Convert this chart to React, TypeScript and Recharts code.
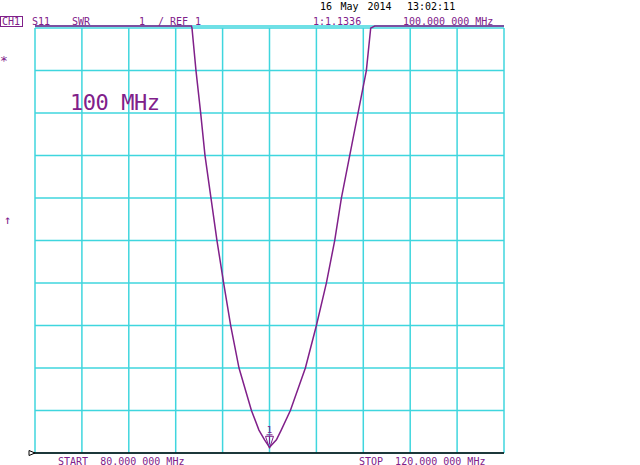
import React from 'react';
import { LineChart, Line, XAxis, YAxis, CartesianGrid, ReferenceLine, ReferenceDot } from 'recharts';

const freqMHz = [80, 93.34, 93.39, 93.73, 94.13, 94.5, 95.01, 95.52, 96.09, 96.69, 97.4, 98.46, 99.1, 99.58, 100, 100.59, 101.0, 101.78, 103.06, 104.0, 104.85, 105.56, 106.13, 106.84, 107.55, 108.26, 108.63, 108.97, 120];
const swrValues = [11.05, 11.05, 11.0, 10.0, 9.0, 8.0, 7.0, 6.0, 5.0, 4.0, 3.0, 2.0, 1.54, 1.31, 1.1336, 1.31, 1.54, 2.0, 3.0, 4.0, 5.0, 6.0, 7.0, 8.0, 9.0, 10.0, 11.0, 11.05, 11.05];
const xTicks = [80, 84, 88, 92, 96, 100, 104, 108, 112, 116, 120];
const yTicks = [1, 2, 3, 4, 5, 6, 7, 8, 9, 10, 11];
const markerFreq = 100;
const markerSwr = 1.1336;

const data = freqMHz.map((f, i) => ({ f, swr: swrValues[i] }));

const PURPLE = '#80208a';
const CYAN = '#3fd6de';
const MONO = '"DejaVu Sans Mono", monospace';

const MarkerShape = (props: any) => {
  const { cx, cy } = props;
  return (
    <g>
      <polygon points={`${cx - 4},${cy - 11} ${cx + 4},${cy - 11} ${cx},${cy + 1}`} fill="none" stroke={PURPLE} strokeWidth={1} />
      <line x1={cx} y1={cy - 11} x2={cx} y2={cy - 3} stroke={PURPLE} strokeWidth={1} />
      <line x1={cx - 3} y1={cy - 12.5} x2={cx + 3} y2={cy - 12.5} stroke={PURPLE} strokeWidth={1} />
      <text x={cx} y={cy - 14} textAnchor="middle" fontFamily={MONO} fontSize={9} fill={PURPLE}>1</text>
    </g>
  );
};

const StartShape = (props: any) => {
  const { cx, cy } = props;
  return <polygon points={`${cx - 6},${cy - 2.5} ${cx},${cy} ${cx - 6},${cy + 2.5}`} fill="#fff" stroke="#000" strokeWidth={1} />;
};

export default function App() {
  return (
    <div style={{ position: 'absolute', left: 0, top: 0, width: 640, height: 465, background: '#fff' }}>
      <LineChart width={640} height={465} data={data} margin={{ top: 26, right: 136, bottom: 12, left: 35 }}>
        <XAxis type="number" dataKey="f" domain={[80, 120]} ticks={xTicks} hide />
        <YAxis type="number" domain={[1, 11.05]} ticks={yTicks} hide />
        <CartesianGrid vertical={false} stroke={CYAN} strokeWidth={1.5} strokeDasharray="" />
        {xTicks.map((t) => (
          <ReferenceLine key={t} segment={[{ x: t, y: 1 }, { x: t, y: 11 }]} stroke={CYAN} strokeWidth={1.5} ifOverflow="visible" />
        ))}
        <ReferenceLine segment={[{ x: 79.5, y: 1 }, { x: 120, y: 1 }]} stroke="#000" strokeWidth={1.5} ifOverflow="visible" />
        <ReferenceDot x={80} y={1} shape={StartShape} ifOverflow="visible" />
        <Line type="linear" dataKey="swr" stroke={PURPLE} strokeWidth={1.5} dot={false} isAnimationActive={false} />
        <ReferenceDot x={markerFreq} y={markerSwr} shape={MarkerShape} ifOverflow="visible" />
      </LineChart>
      <svg width={640} height={465} style={{ position: 'absolute', left: 0, top: 0, pointerEvents: 'none', whiteSpace: 'pre' }}>
        <g fontFamily={MONO} fontSize={10}>
          <text x={320} y={10} fill="#000">16</text>
          <text x={340.5} y={10} fill="#000">May</text>
          <text x={367.5} y={10} fill="#000">2014</text>
          <text x={407} y={10} fill="#000">13:02:11</text>
          <rect x={0.5} y={16.5} width={22} height={10} fill="none" stroke={PURPLE} strokeWidth={1} />
          <text x={2} y={25} fill={PURPLE}>CH1</text>
          <text x={32} y={25} fill={PURPLE}>S11</text>
          <text x={72} y={25} fill={PURPLE}>SWR</text>
          <text x={139} y={25} fill={PURPLE}>1</text>
          <text x={158} y={25} fill={PURPLE}>/ REF</text>
          <text x={195} y={25} fill={PURPLE}>1</text>
          <text x={313} y={25} fill={PURPLE}>1:1.1336</text>
          <text x={403} y={25} fill={PURPLE}>100.000 000 MHz</text>
          <text x={0} y={65} fill={PURPLE} fontSize={13}>*</text>
          <text x={4} y={224} fill={PURPLE} fontSize={12}>↑</text>
          <text x={58} y={464.5} fill={PURPLE} style={{ whiteSpace: 'pre' }}>{'START  80.000 000 MHz'}</text>
          <text x={359} y={464.5} fill={PURPLE} style={{ whiteSpace: 'pre' }}>{'STOP  120.000 000 MHz'}</text>
        </g>
        <text x={70} y={110} fontFamily={MONO} fontSize={22} textLength={90} fill={PURPLE} fontWeight="normal" style={{ whiteSpace: 'pre' }}>{'100 MHz'}</text>
      </svg>
    </div>
  );
}
